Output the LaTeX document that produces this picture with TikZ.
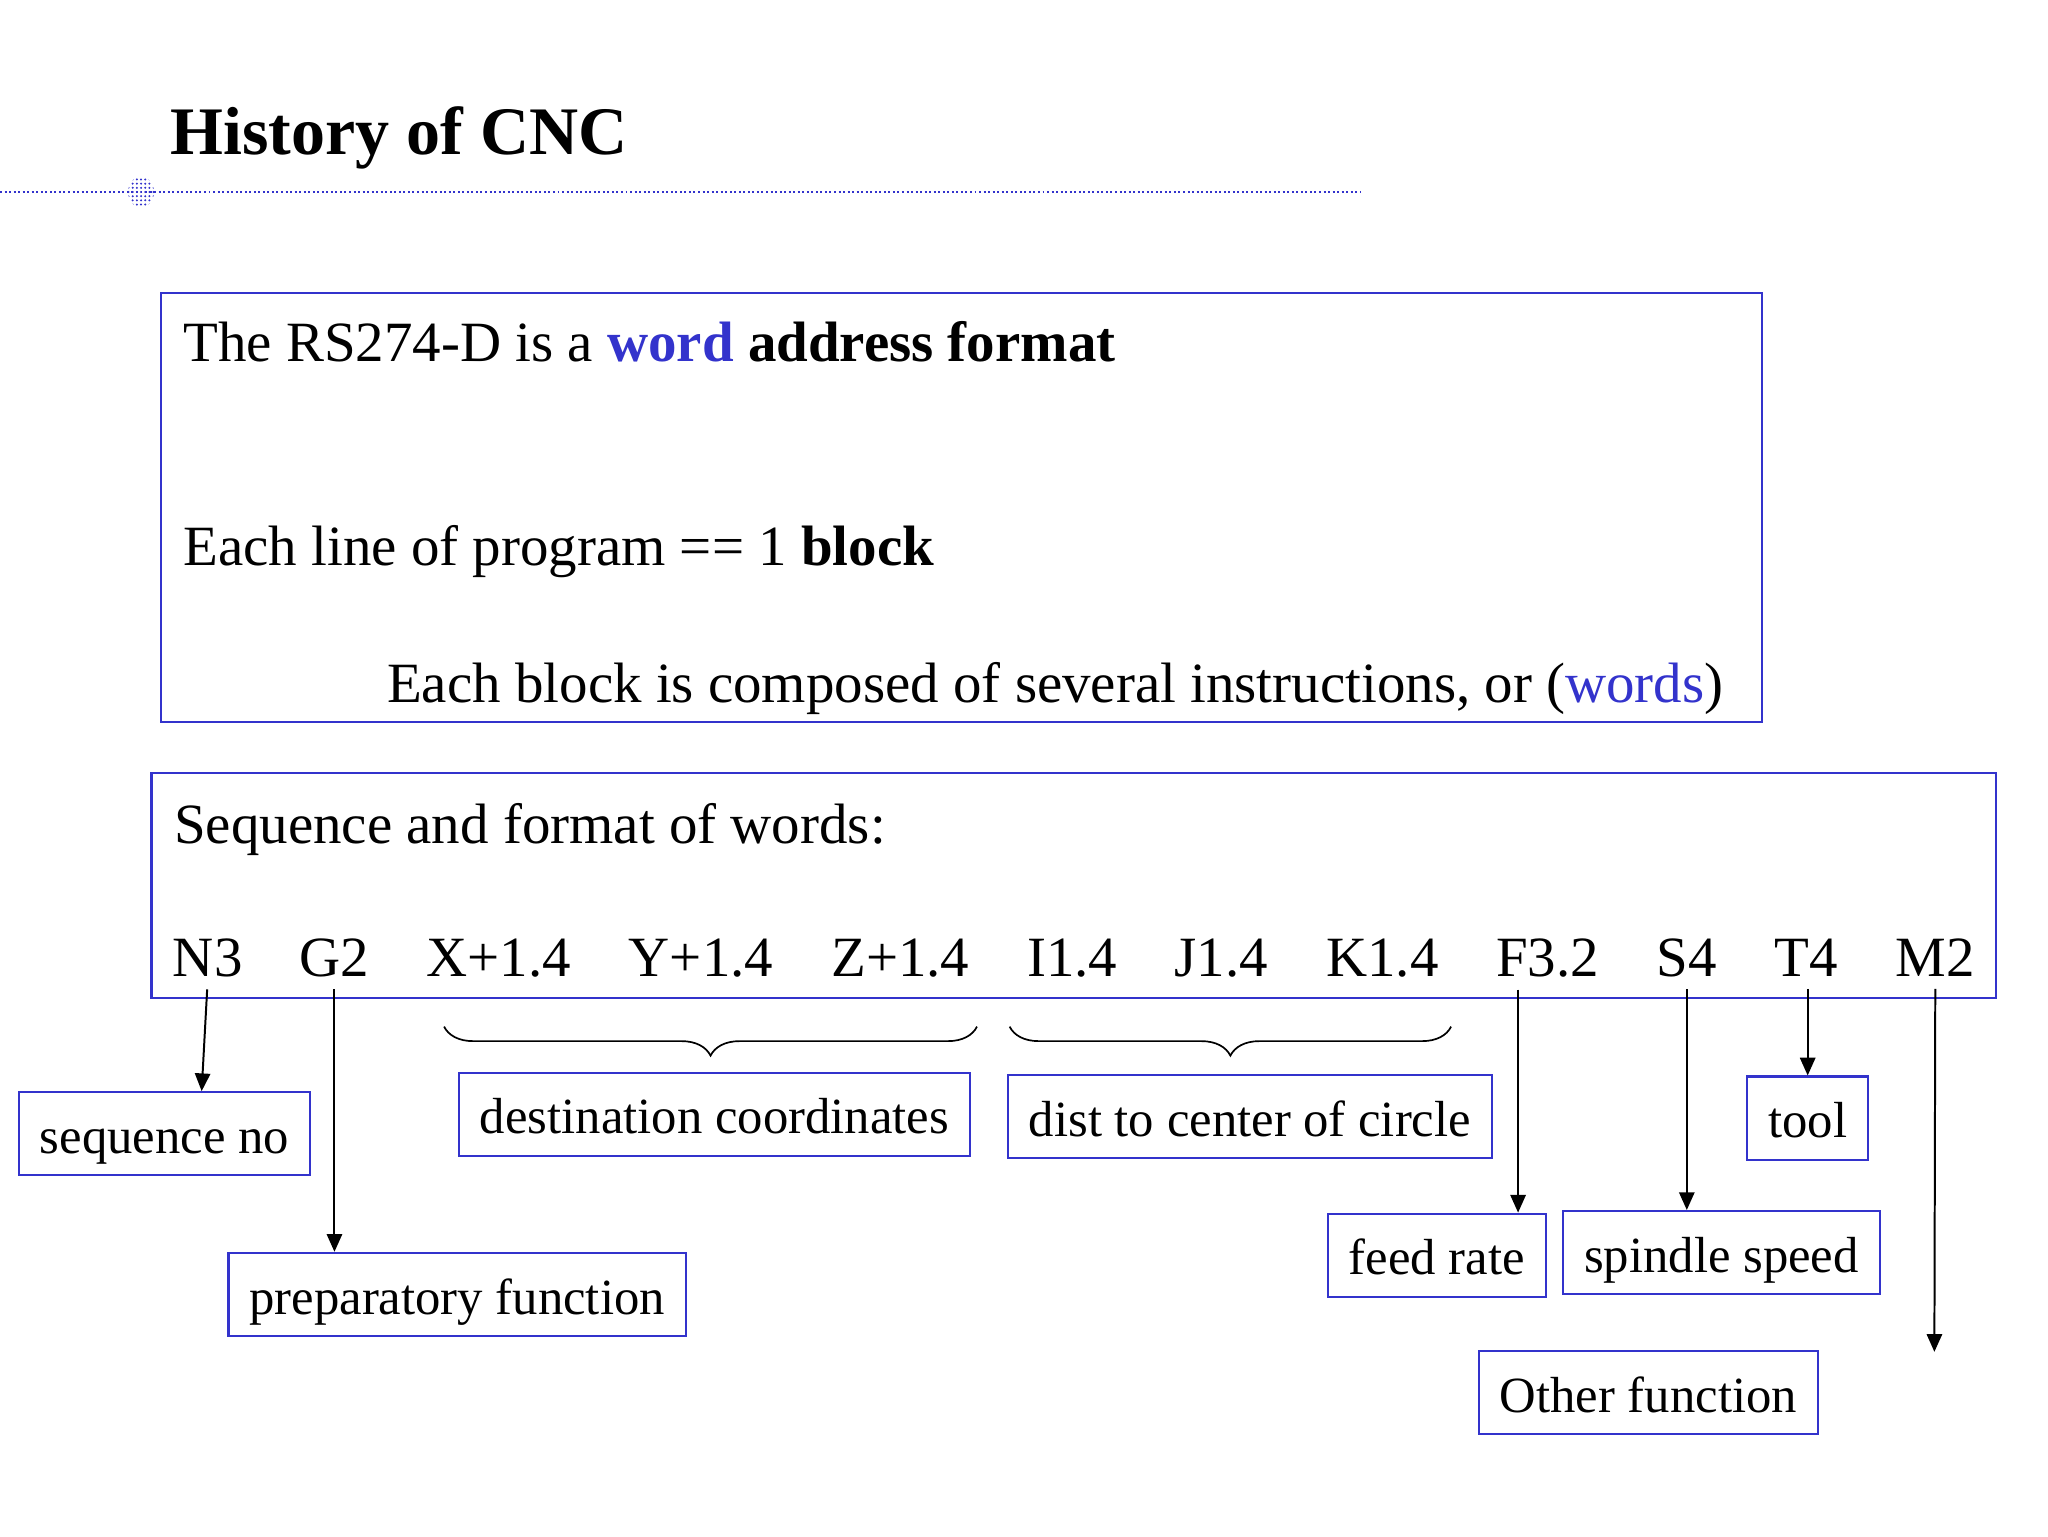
\documentclass[tikz,border=0pt]{standalone}
\usepackage{fontspec}
\setmainfont{Liberation Serif}
\usetikzlibrary{arrows.meta,decorations.pathreplacing}
\definecolor{slideblue}{RGB}{51,51,204}
\tikzset{
  frame/.style = {draw=slideblue, line width=0.75pt},
  body/.style = {font=\fontsize{20.1}{24}\selectfont, inner sep=0pt, anchor=base west},
  word/.style = {body},
  lbl/.style = {frame, font=\fontsize{17.9}{22}\selectfont, inner xsep=0.26cm, inner ysep=0pt,
                minimum height=1.03cm, text height=0.55cm, text depth=0.06cm},
  arr/.style = {-{Triangle[length=0.22cm, width=0.19cm]}, line width=0.7pt, shorten <=0.14cm},
  brc/.style = {decorate, decoration={brace, mirror, amplitude=0.36cm}, line width=0.6pt},
}

\begin{document}
\begin{tikzpicture}[x=0.016199cm, y=-0.016199cm]
  \useasboundingbox (0,0) rectangle (1568,1176);

  % title and rule
  \node [font=\fontsize{24}{29}\selectfont\bfseries, inner sep=0pt, anchor=base west] (title) at (130,118) {History of CNC};
  \draw [slideblue, line width=1pt, dash pattern=on 0.7pt off 0.9pt] (0,147) -- (1042,147);
  \begin{scope}
    \clip (108,147) ellipse [x radius=0.16cm, y radius=0.19cm];
    \foreach \i in {-4,...,4}
      \foreach \j in {-4,...,4}
        \fill [slideblue] (108+3.2*\i,147+3.2*\j) circle [radius=0.014cm];
  \end{scope}

  % first box
  \draw [frame] (123,224) rectangle (1349,553);
  \node [body] (rs) at (140,277) {The RS274-D is a \textcolor{slideblue}{\textbf{word}} \textbf{address format}};
  \node [body] (blk) at (140,433) {Each line of program == 1 \textbf{block}};
  \node [body] (cmp) at (296,538) {Each block is composed of several instructions, or (\textcolor{slideblue}{words})};

  % second box
  \draw [frame] (116,592) rectangle (1528,764);
  \node [body] (seq) at (133,646) {Sequence and format of words:};
  \foreach \x/\w/\n in {132/N3/wn, 229/G2/wg, 326/X+1.4/wx, 481/Y+1.4/wy, 636/Z+1.4/wz,
                        786/I1.4/wi, 899/J1.4/wj, 1015/K1.4/wk, 1145/F3.2/wf,
                        1268/S4/ws, 1358/T4/wt, 1451/M2/wm}
    \node [word] (\n) at (\x,748) {\w};

  % braces
  \draw [brc] (340,786) -- (748,786);
  \draw [brc] (773,786) -- (1111,786);

  % labels
  \node [lbl] (seqno) at (126,868) {sequence no};
  \node [lbl] (dest) at (547,853) {destination coordinates};
  \node [lbl] (dist) at (957,855) {dist to center of circle};
  \node [lbl] (tool) at (1384,856) {tool};
  \node [lbl] (feed) at (1100,961) {feed rate};
  \node [lbl] (spin) at (1318,959) {spindle speed};
  \node [lbl] (prep) at (350,991) {preparatory function};
  \node [lbl] (other) at (1262,1066) {Other function};
  \coordinate (mend) at (1481,1035);

  % arrows
  \draw [arr] (wn.south) -- ([xshift=0.46cm]seqno.north);
  \draw [arr] (wg.south) -- (wg.south |- prep.north);
  \draw [arr] ([xshift=0.28cm]wf.south west) -- ([xshift=0.28cm]wf.south west |- feed.north);
  \draw [arr] (ws.south) -- (ws.south |- spin.north);
  \draw [arr] (wt.south -| tool.north) -- (tool.north);
  \draw [arr] (wm.south) -- (mend);
\end{tikzpicture}
\end{document}
